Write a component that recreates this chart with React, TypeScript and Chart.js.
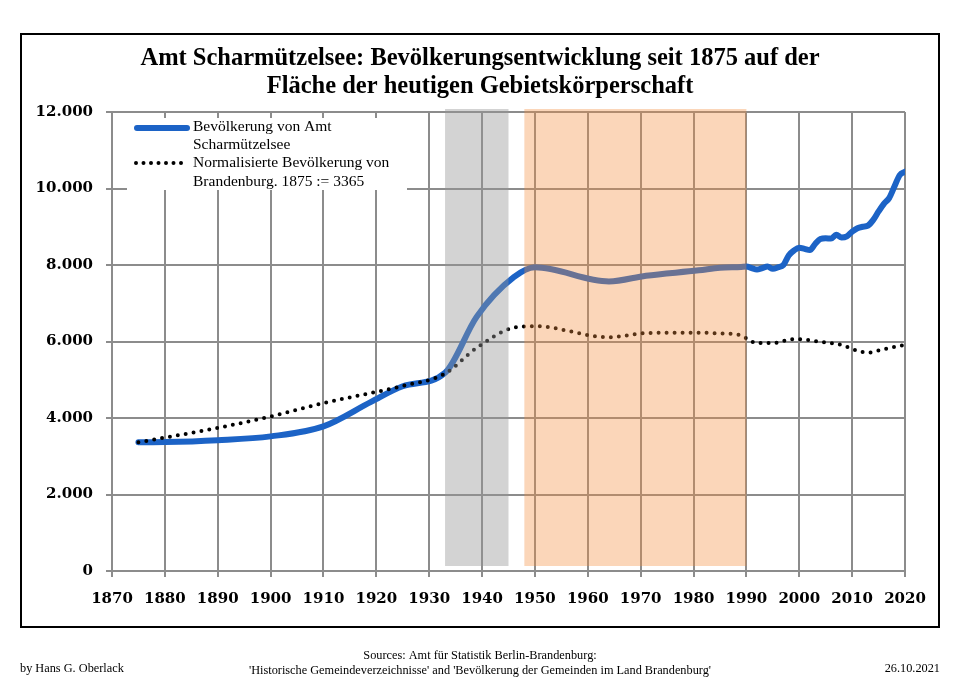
import React, { useEffect, useRef } from "react";
import { Chart, registerables } from "chart.js";

Chart.register(...registerables);

// Population of Amt Scharmützelsee
const popYears = [
  1875, 1880, 1890, 1900, 1910, 1919, 1925, 1933, 1939, 1946, 1950, 1964, 1971, 1981, 1985, 1989,
  1990, 1991, 1992, 1993, 1994, 1995, 1996, 1997, 1998, 1999, 2000, 2001, 2002, 2003, 2004, 2005,
  2006, 2007, 2008, 2009, 2010, 2011, 2012, 2013, 2014, 2015, 2016, 2017, 2018, 2019, 2020,
];
const popValues = [
  3365, 3370, 3420, 3520, 3780, 4420, 4830, 5180, 6650, 7680, 7940, 7570, 7720, 7860, 7930, 7950,
  7960, 7920, 7880, 7920, 7960, 7900, 7940, 8000, 8250, 8380, 8450, 8420, 8390, 8550, 8680, 8700,
  8690, 8790, 8720, 8750, 8870, 8960, 9000, 9030, 9180, 9400, 9600, 9750, 10050, 10350, 10440,
];

// Brandenburg population, normalised so that 1875 := 3365
const normYears = [
  1875, 1890, 1900, 1910, 1925, 1933, 1939, 1946, 1950, 1964, 1971, 1981, 1985, 1989, 1990, 1992,
  1995, 1999, 2001, 2004, 2008, 2011, 2013, 2016, 2020,
];
const normValues = [
  3365, 3740, 4040, 4390, 4840, 5160, 5840, 6360, 6400, 6110, 6220, 6230, 6210, 6160, 6080, 5960,
  5960, 6060, 6050, 5990, 5910, 5760, 5710, 5800, 5910,
];

// Shaded periods: Nazi era and GDR era
const naziPeriod = [1933, 1945];
const gdrPeriod = [1948, 1990];

const xTickMin = 1870;
const xTickMax = 2020;
const yTickMax = 12000;

const titleLines = [
  "Amt Scharmützelsee: Bevölkerungsentwicklung seit 1875 auf der",
  "Fläche der heutigen Gebietskörperschaft",
];
const legendLabels = [
  ["Bevölkerung von Amt", "Scharmützelsee"],
  ["Normalisierte Bevölkerung von", "Brandenburg. 1875 := 3365"],
];
const footerLeft = "by Hans G. Oberlack";
const footerRight = "26.10.2021";
const footerSources = [
  "Sources: Amt für Statistik Berlin-Brandenburg:",
  "'Historische Gemeindeverzeichnisse' and 'Bevölkerung der Gemeinden im Land Brandenburg'",
];

const BLUE = "#1c63c6";
const SERIF = "'Liberation Serif', 'DejaVu Serif', serif";
const TICK_FONT = "'DejaVu Serif', serif";

const fmt = (v: number) =>
  v === 0 ? "0" : String(v).replace(/\B(?=(\d{3})+(?!\d))/g, ".");

const decorPlugin = {
  id: "decor",
  afterDatasetsDraw(chart: any) {
    const { ctx, scales } = chart;
    const x = scales.x;
    const y = scales.y;
    const top = y.getPixelForValue(yTickMax) - 3;
    const bottom = y.getPixelForValue(0) - 5;
    ctx.save();
    const band = (p: number[], color: string) => {
      const x0 = x.getPixelForValue(p[0]);
      const x1 = x.getPixelForValue(p[1]);
      ctx.fillStyle = color;
      ctx.fillRect(x0, top, x1 - x0, bottom - top);
    };
    band(naziPeriod, "rgba(150,150,150,0.42)");
    band(gdrPeriod, "rgba(245,140,60,0.36)");
    ctx.restore();
  },
  afterDraw(chart: any) {
    const { ctx, width } = chart;
    ctx.save();

    // outer frame
    ctx.strokeStyle = "#000";
    ctx.lineWidth = 2;
    ctx.strokeRect(21, 34, 918, 593);

    // title
    ctx.fillStyle = "#000";
    ctx.textAlign = "center";
    ctx.textBaseline = "middle";
    ctx.font = `bold 24.5px ${SERIF}`;
    ctx.fillText(titleLines[0], width / 2, 59);
    ctx.fillText(titleLines[1], width / 2, 87);

    // legend box
    ctx.fillStyle = "#fff";
    ctx.fillRect(127, 118, 280, 72);
    ctx.lineCap = "round";
    ctx.strokeStyle = BLUE;
    ctx.lineWidth = 6;
    ctx.beginPath();
    ctx.moveTo(137, 128);
    ctx.lineTo(187, 128);
    ctx.stroke();
    ctx.strokeStyle = "#000";
    ctx.lineWidth = 4;
    ctx.setLineDash([0, 7.5]);
    ctx.beginPath();
    ctx.moveTo(136, 163);
    ctx.lineTo(184, 163);
    ctx.stroke();
    ctx.setLineDash([]);
    ctx.fillStyle = "#000";
    ctx.textAlign = "left";
    ctx.font = `15.5px ${SERIF}`;
    ctx.fillText(legendLabels[0][0], 193, 127);
    ctx.fillText(legendLabels[0][1], 193, 145);
    ctx.fillText(legendLabels[1][0], 193, 163);
    ctx.fillText(legendLabels[1][1], 193, 182);

    // footer
    ctx.font = `12.3px ${SERIF}`;
    ctx.textAlign = "left";
    ctx.fillText(footerLeft, 20, 669);
    ctx.textAlign = "right";
    ctx.fillText(footerRight, 940, 669);
    ctx.textAlign = "center";
    ctx.fillText(footerSources[0], 480, 656);
    ctx.fillText(footerSources[1], 480, 671);
    ctx.restore();
  },
};

export default function App() {
  const canvasRef = useRef<HTMLCanvasElement | null>(null);

  useEffect(() => {
    if (!canvasRef.current) return;
    const chart = new Chart(canvasRef.current, {
      type: "line",
      data: {
        datasets: [
          {
            label: "Normalisierte Bevölkerung von Brandenburg",
            data: normYears.map((yr, i) => ({ x: yr, y: normValues[i] })),
            borderColor: "#000",
            borderWidth: 4,
            borderDash: [0, 8],
            borderCapStyle: "round",
            pointRadius: 0,
            cubicInterpolationMode: "monotone",
            order: 0,
          },
          {
            label: "Bevölkerung von Amt Scharmützelsee",
            data: popYears.map((yr, i) => ({ x: yr, y: popValues[i] })),
            borderColor: BLUE,
            borderWidth: 6,
            borderCapStyle: "round",
            borderJoinStyle: "round",
            pointRadius: 0,
            cubicInterpolationMode: "monotone",
            order: 1,
          },
        ],
      },
      options: {
        animation: false,
        responsive: false,
        maintainAspectRatio: false,
        layout: { padding: { left: 0, right: 55, top: 112, bottom: 68 } },
        plugins: {
          legend: { display: false },
          tooltip: { enabled: false },
          title: { display: false },
        },
        scales: {
          x: {
            type: "linear",
            min: xTickMin,
            max: xTickMax,
            afterFit: (s: any) => {
              s.height = 40;
            },
            ticks: {
              stepSize: 10,
              padding: 13,
              maxRotation: 0,
              autoSkip: false,
              color: "#000",
              font: { family: TICK_FONT, size: 15, weight: "bold" },
              callback: (v: any) => String(v),
            },
            grid: { color: "#8c8c8c", lineWidth: 2, tickLength: 6 },
            border: { color: "#8c8c8c", width: 2 },
          },
          y: {
            min: 0,
            max: yTickMax,
            afterFit: (s: any) => {
              s.width = 112;
            },
            ticks: {
              stepSize: 2000,
              padding: 13,
              color: "#000",
              font: { family: TICK_FONT, size: 15, weight: "bold" },
              callback: (v: any) => fmt(Number(v)),
            },
            grid: { color: "#8c8c8c", lineWidth: 2, tickLength: 6 },
            border: { color: "#8c8c8c", width: 2 },
          },
        },
      },
      plugins: [decorPlugin],
    });
    return () => chart.destroy();
  }, []);

  return (
    <div style={{ position: "absolute", left: 0, top: 0, width: 960, height: 679, background: "#fff" }}>
      <canvas ref={canvasRef} width={960} height={679} />
    </div>
  );
}
